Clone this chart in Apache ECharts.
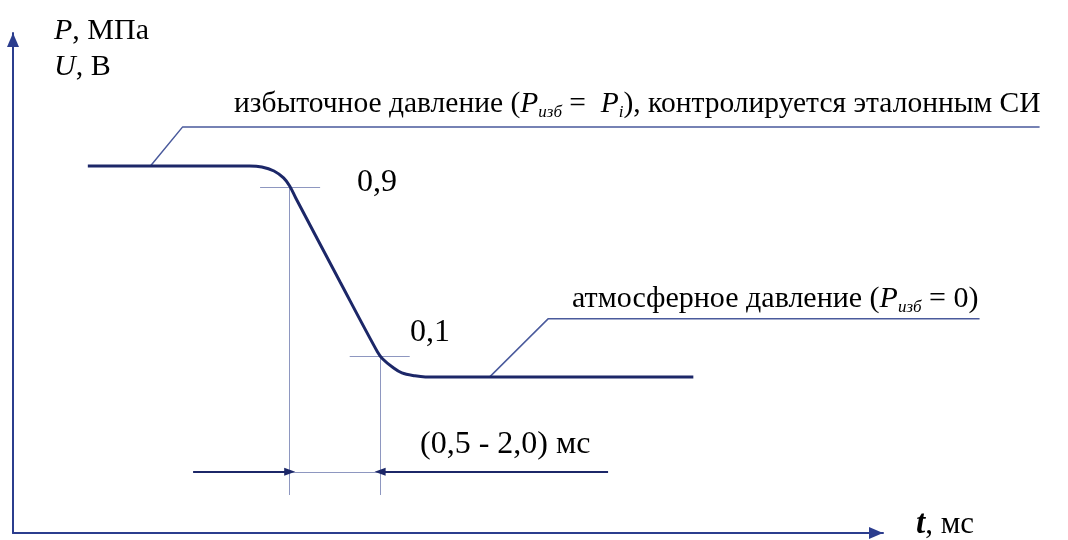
<!DOCTYPE html>
<html>
<head>
<meta charset="utf-8">
<script src="https://cdn.jsdelivr.net/npm/echarts@6/dist/echarts.min.js"></script>
<style>
  html, body { margin: 0; padding: 0; background: #ffffff; }
  #chart { width: 1068px; height: 540px; }
</style>
</head>
<body>
<div id="chart"></div>
<script>
// Pressure drop curve: relative pressure (1 = excess, 0 = atmospheric) versus time
const timeValues = [0.86, 2.72, 2.86, 3.00, 3.11, 3.18, 3.25, 3.76, 4.19, 4.25, 4.36, 4.47, 4.62, 4.74, 7.82];
const pressureValues = [1.0, 1.0, 0.995, 0.976, 0.943, 0.905, 0.848, 0.450, 0.118, 0.085, 0.047, 0.019, 0.005, 0.0, 0.0];

// Reference levels marked on the front
const levelValues = [0.9, 0.1];
const levelLabels = ['0,9', '0,1'];
const levelTimes = [3.18, 4.22];          // where the front crosses each level
const levelTickSpan = [[2.84, 3.53], [3.87, 4.56]];

// Extent of the rise-time dimension line
const dimensionLevel = -0.45;
const dimensionEnds = [2.07, 6.84];
const extensionBottom = -0.56;

// Leader lines to the two plateau notes
const leaderTop = { t: [1.58, 1.95, 11.8], p: [1.0, 1.185, 1.185] };
const leaderBottom = { t: [5.48, 6.15, 11.11], p: [0.0, 0.275, 0.275] };

const axisNames = [['P', ', МПа'], ['U', ', В'], ['t', ', мс']];
const textTop = ['избыточное давление (', 'P', 'изб', ' =  ', 'P', 'i', '), контролируется эталонным СИ'];
const textBottom = ['атмосферное давление (', 'P', 'изб', ' = 0)'];
const durationText = '(0,5 - 2,0) мс';

const ink = '#1c2768';
const axisInk = '#2b3d8e';
const thin = '#4a5a9c';
const serif = '"Liberation Serif", "DejaVu Serif", serif';

const pairs = (ts, ps) => ts.map((t, i) => [t, ps[i]]);

const chart = echarts.init(document.getElementById('chart'), null, { renderer: 'canvas' });

const series = [
  {
    type: 'line',
    data: pairs(timeValues, pressureValues),
    smooth: 0.35,
    showSymbol: false,
    lineStyle: { color: ink, width: 3 },
    z: 5
  },
  {
    type: 'line',
    xAxisIndex: 1,
    yAxisIndex: 1,
    data: pairs(leaderTop.t, leaderTop.p),
    showSymbol: false,
    lineStyle: { color: thin, width: 1.5 }
  },
  {
    type: 'line',
    xAxisIndex: 1,
    yAxisIndex: 1,
    data: pairs(leaderBottom.t, leaderBottom.p),
    showSymbol: false,
    lineStyle: { color: thin, width: 1.5 }
  },
  {
    type: 'line',
    data: [],
    markLine: {
      silent: true,
      animation: false,
      label: { show: false },
      symbol: ['none', 'none'],
      lineStyle: { type: 'solid', color: '#8e97c0', width: 1 },
      data: [
        [{ coord: [levelTickSpan[0][0], levelValues[0]] }, { coord: [levelTickSpan[0][1], levelValues[0]] }],
        [{ coord: [levelTickSpan[1][0], levelValues[1]] }, { coord: [levelTickSpan[1][1], levelValues[1]] }],
        [{ coord: [levelTimes[0], levelValues[0]] }, { coord: [levelTimes[0], extensionBottom] }],
        [{ coord: [levelTimes[1], levelValues[1]] }, { coord: [levelTimes[1], extensionBottom] }],
        [{ coord: [levelTimes[0], dimensionLevel] }, { coord: [levelTimes[1], dimensionLevel] }]
      ]
    }
  },
  {
    type: 'line',
    data: [],
    markLine: {
      silent: true,
      animation: false,
      label: { show: false },
      symbol: ['none', 'triangle'],
      symbolSize: [8, 11],
      lineStyle: { type: 'solid', color: ink, width: 1.8 },
      data: [
        [{ coord: [dimensionEnds[0], dimensionLevel] }, { coord: [levelTimes[0], dimensionLevel] }],
        [{ coord: [dimensionEnds[1], dimensionLevel] }, { coord: [levelTimes[1], dimensionLevel] }]
      ]
    }
  }
];

function textStyles(size) {
  const lh = Math.round(size + 4);
  return {
    n: { fontFamily: serif, fontSize: size, color: ink, lineHeight: lh },
    i: { fontFamily: serif, fontSize: size, fontStyle: 'italic', color: ink, lineHeight: lh },
    s: { fontFamily: serif, fontSize: Math.round(size * 0.57), fontStyle: 'italic', color: ink, lineHeight: lh, verticalAlign: 'bottom' },
    d: { fontFamily: serif, fontSize: 32, color: ink, lineHeight: 36 },
    t: { fontFamily: serif, fontSize: 33, fontStyle: 'italic', fontWeight: 'bold', color: ink, lineHeight: 36 },
    m: { fontFamily: serif, fontSize: 31, color: ink, lineHeight: 36 }
  };
}
const rich = textStyles(30);
const richNote = textStyles(29.5);

function note(parts, styles) {
  return parts.map((p, k) => '{' + styles[k] + '|' + p + '}').join('');
}

const hiddenAxis = {
  show: false,
  axisLine: { show: false },
  axisTick: { show: false },
  axisLabel: { show: false },
  splitLine: { show: false }
};

const arrowLine = {
  show: true,
  onZero: false,
  symbol: ['none', 'triangle'],
  symbolSize: [12, 14],
  symbolOffset: [0, -7],
  lineStyle: { color: axisInk, width: 2 }
};

chart.setOption({
  animation: false,
  backgroundColor: '#ffffff',
  grid: [
    { left: 13, right: 185, top: 33, bottom: 7, containLabel: false },
    { left: 13, right: 11, top: 33, bottom: 7, containLabel: false }
  ],
  xAxis: [
    {
      type: 'value',
      gridIndex: 0,
      min: 0,
      max: 10,
      axisLine: arrowLine,
      axisTick: { show: false },
      axisLabel: { show: false },
      splitLine: { show: false }
    },
    Object.assign({ type: 'value', gridIndex: 1, min: 0, max: 12 }, hiddenAxis)
  ],
  yAxis: [
    {
      type: 'value',
      gridIndex: 0,
      min: -0.74,
      max: 1.63,
      axisLine: arrowLine,
      axisTick: { show: false },
      axisLabel: { show: false },
      splitLine: { show: false }
    },
    Object.assign({ type: 'value', gridIndex: 1, min: -0.74, max: 1.63 }, hiddenAxis)
  ],
  series: series,
  graphic: [
    { type: 'text', left: 54, top: 16, style: { text: '{i|' + axisNames[0][0] + '}{n|' + axisNames[0][1] + '}', rich: rich } },
    { type: 'text', left: 54, top: 52, style: { text: '{i|' + axisNames[1][0] + '}{n|' + axisNames[1][1] + '}', rich: rich } },
    { type: 'text', left: 234, top: 89, style: { text: note(textTop, ['n', 'i', 's', 'n', 'i', 's', 'n']), rich: richNote } },
    { type: 'text', left: 357, top: 167, style: { text: '{d|' + levelLabels[0] + '}', rich: rich } },
    { type: 'text', left: 410, top: 317, style: { text: '{d|' + levelLabels[1] + '}', rich: rich } },
    { type: 'text', left: 572, top: 284, style: { text: note(textBottom, ['n', 'i', 's', 'n']), rich: rich } },
    { type: 'text', left: 420, top: 429, style: { text: '{d|' + durationText + '}', rich: rich } },
    { type: 'text', left: 916, top: 508, style: { text: '{t|' + axisNames[2][0] + '}{m|' + axisNames[2][1] + '}', rich: rich } }
  ]
});
</script>
</body>
</html>
